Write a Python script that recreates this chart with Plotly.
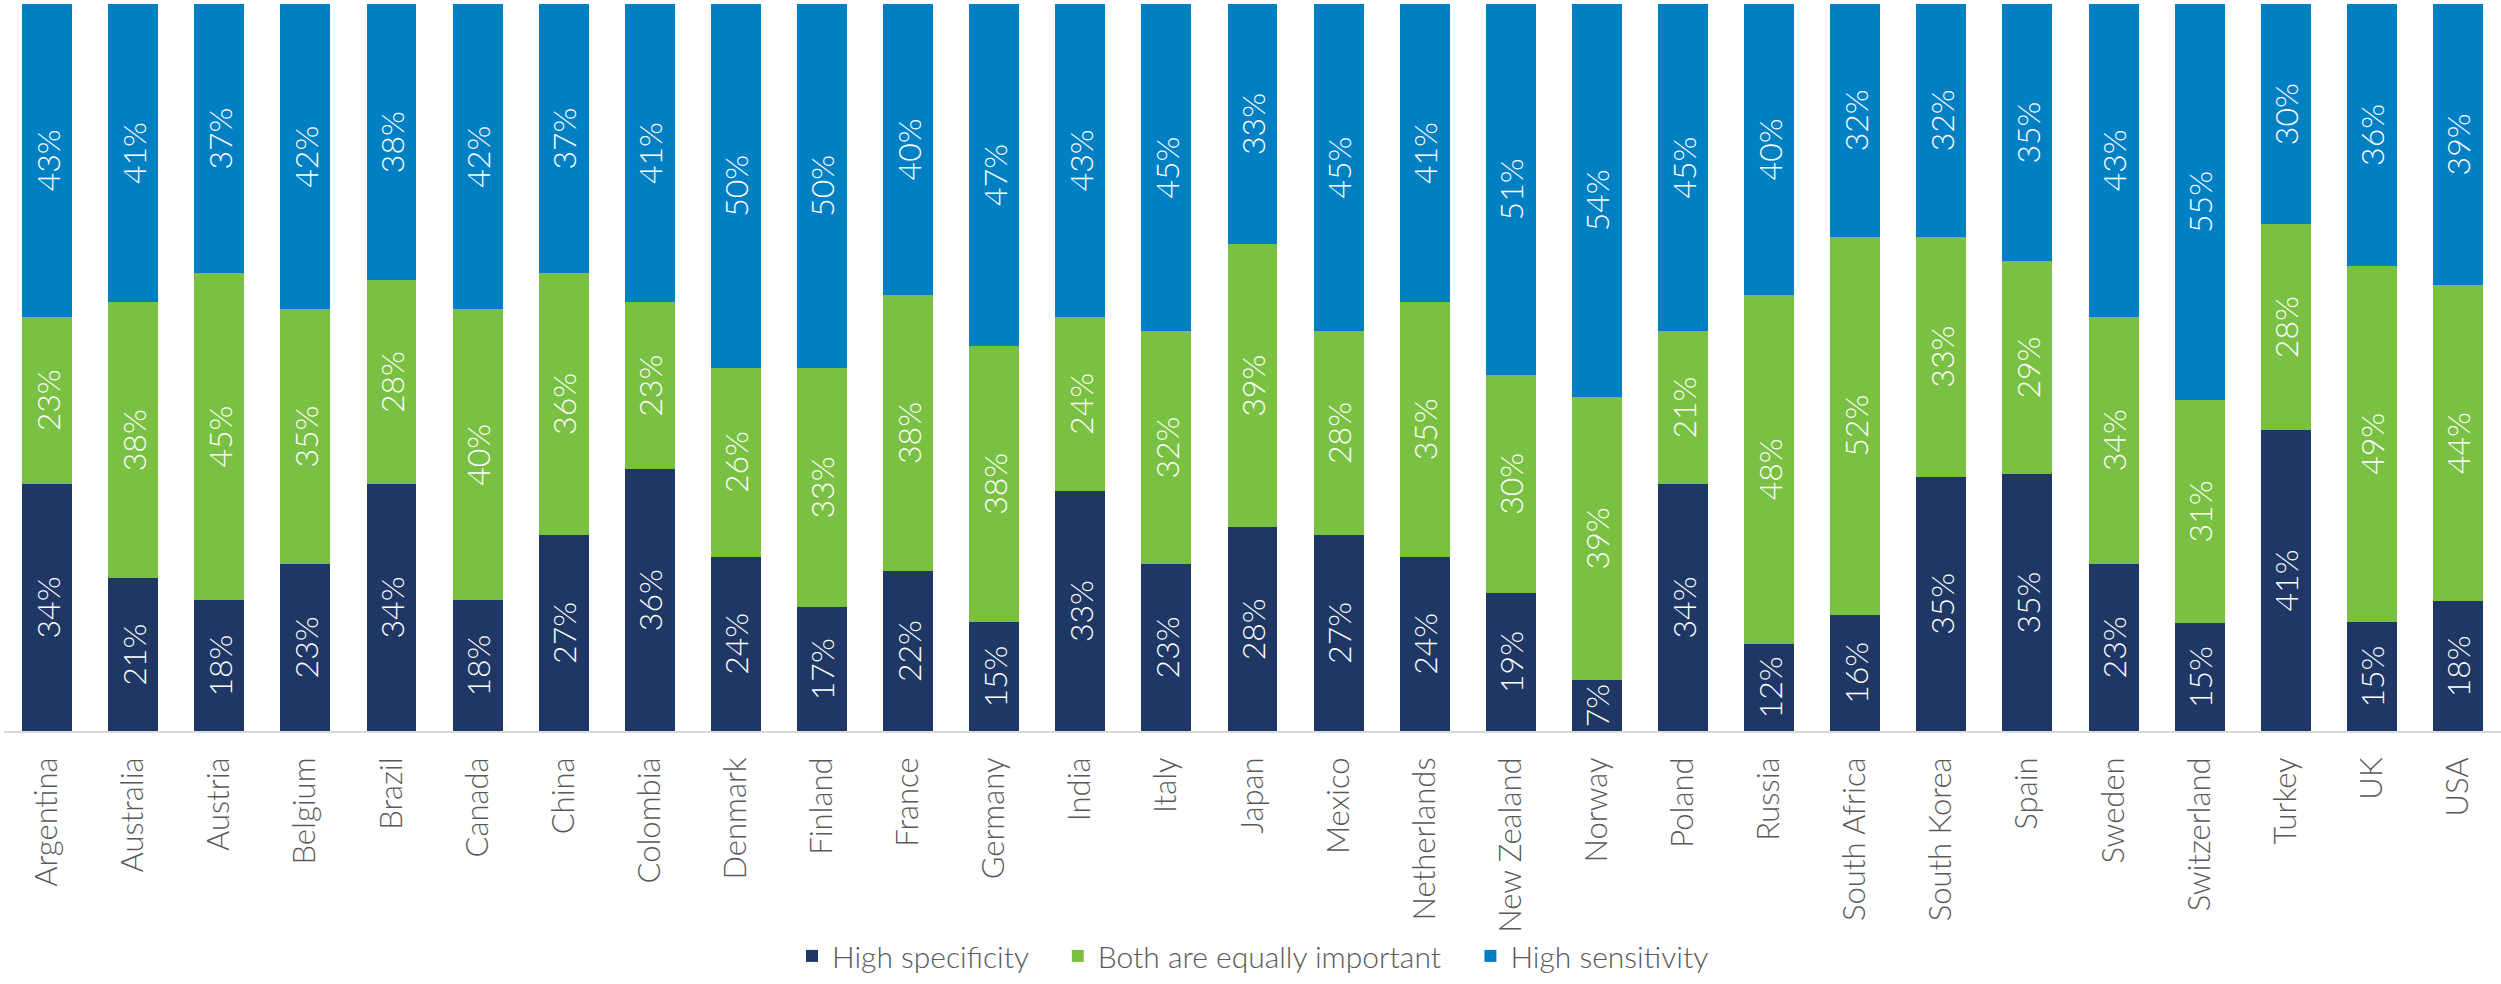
import plotly.graph_objects as go

# Survey shares per country (percent)
countries = [
    'Argentina', 'Australia', 'Austria', 'Belgium', 'Brazil', 'Canada', 'China',
    'Colombia', 'Denmark', 'Finland', 'France', 'Germany', 'India', 'Italy',
    'Japan', 'Mexico', 'Netherlands', 'New Zealand', 'Norway', 'Poland',
    'Russia', 'South Africa', 'South Korea', 'Spain', 'Sweden', 'Switzerland',
    'Turkey', 'UK', 'USA',
]
high_specificity = [34, 21, 18, 23, 34, 18, 27, 36, 24, 17, 22, 15, 33, 23,
                    28, 27, 24, 19, 7, 34, 12, 16, 35, 35, 23, 15, 41, 15, 18]
both_equal = [23, 38, 45, 35, 28, 40, 36, 23, 26, 33, 38, 38, 24, 32,
              39, 28, 35, 30, 39, 21, 48, 52, 33, 29, 34, 31, 28, 49, 44]
high_sensitivity = [43, 41, 37, 42, 38, 42, 37, 41, 50, 50, 40, 47, 43, 45,
                    33, 45, 41, 51, 54, 45, 40, 32, 32, 35, 43, 55, 30, 36, 39]

_FONT = 'Lato, "Open Sans", sans-serif'
_PAD = '\u00a0' * 3  # extra room between legend entries

series = [
    ('High specificity', high_specificity, '#1E3764'),
    ('Both are equally important', both_equal, '#7AC143'),
    ('High sensitivity', high_sensitivity, '#0080C3'),
]

fig = go.Figure()
for name, vals, color in series:
    fig.add_trace(go.Bar(
        x=countries,
        y=vals,
        name=name + _PAD,
        marker=dict(color=color, line=dict(width=0)),
        text=[f'{v}%' for v in vals],
        textposition='inside',
        insidetextanchor='middle',
        textangle=-90,
        constraintext='none',
        textfont=dict(color='#ffffff', size=32, family=_FONT, weight=300),
        hovertemplate='%{x}<br>' + name + ': %{text}<extra></extra>',
    ))

fig.update_layout(
    barmode='stack',
    barnorm='percent',
    bargap=0.42,
    width=2501,
    height=984,
    margin=dict(l=4, r=0, t=4, b=253, autoexpand=False),
    paper_bgcolor='#ffffff',
    plot_bgcolor='#ffffff',
    font=dict(family=_FONT, color='#595959', weight=300),
    showlegend=True,
    legend=dict(
        orientation='h',
        xref='paper', x=0.505, xanchor='center',
        yref='container', y=0.055, yanchor='top',
        font=dict(size=30, color='#595959', family=_FONT, weight=300),
        traceorder='normal',
        itemwidth=30,
    ),
    xaxis=dict(
        tickangle=-90,
        tickfont=dict(size=31, color='#595959', family=_FONT, weight=300),
        showline=True, linecolor='#D9D9D9', linewidth=2,
        ticks='', ticklabelstandoff=12,
        showgrid=False,
        automargin=False,
    ),
    yaxis=dict(
        range=[0, 100],
        visible=False,
        showgrid=False,
        automargin=False,
    ),
)

# drop the browser's default body margin so the figure sits at the page corner
fig.write_html('out.html', config={'displayModeBar': False},
               post_script="document.body.style.margin='0';")
